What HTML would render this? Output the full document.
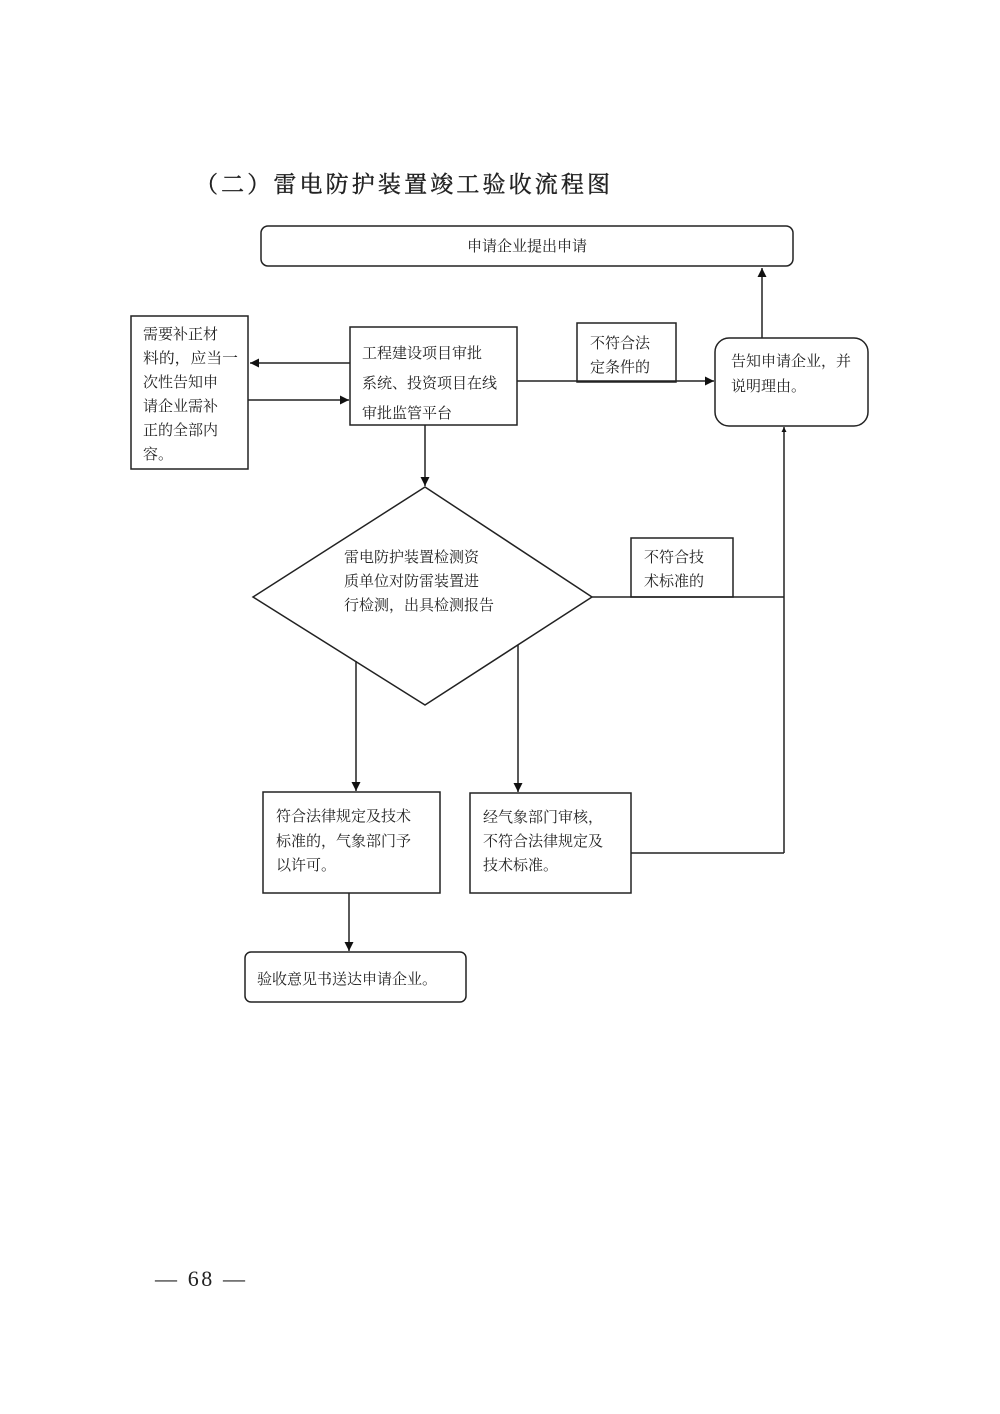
<!DOCTYPE html>
<html><head><meta charset="utf-8"><style>
html,body{margin:0;padding:0;background:#fff;}
svg{display:block;}
text{font-family:"Liberation Serif","Noto Serif CJK SC","Noto Sans CJK SC",serif;fill:#222;}
</style></head><body>
<svg width="1000" height="1414" viewBox="0 0 1000 1414" xmlns="http://www.w3.org/2000/svg">
<defs>
<marker id="a" viewBox="0 0 10 10" refX="10" refY="5" markerWidth="9" markerHeight="9" markerUnits="userSpaceOnUse" orient="auto"><path d="M0,0 L10,5 L0,10 z" fill="#111"/></marker>
<marker id="s" viewBox="0 0 10 10" refX="10" refY="5" markerWidth="5" markerHeight="5" markerUnits="userSpaceOnUse" orient="auto"><path d="M0,0 L10,5 L0,10 z" fill="#111"/></marker>
</defs>
<g fill="none" stroke="#222" stroke-width="1.5">
<rect x="261" y="226" width="532" height="40" rx="7"/>
<rect x="131" y="316" width="117" height="153"/>
<rect x="350" y="327" width="167" height="98"/>
<rect x="577" y="323" width="99" height="59"/>
<rect x="715" y="338" width="153" height="88" rx="14"/>
<polygon points="425,487 592,597 425,705 253,597"/>
<rect x="631" y="538" width="102" height="59"/>
<rect x="263" y="792" width="177" height="101"/>
<rect x="470" y="793" width="161" height="100"/>
<rect x="245" y="952" width="221" height="50" rx="6"/>
<line x1="350" y1="363" x2="250" y2="363" marker-end="url(#a)"/>
<line x1="248" y1="400" x2="349" y2="400" marker-end="url(#a)"/>
<line x1="517" y1="381" x2="714" y2="381" marker-end="url(#a)"/>
<line x1="762" y1="338" x2="762" y2="268" marker-end="url(#a)"/>
<line x1="784" y1="853" x2="784" y2="427" marker-end="url(#s)"/>
<line x1="425" y1="425" x2="425" y2="486" marker-end="url(#a)"/>
<line x1="592" y1="597" x2="784" y2="597"/>
<line x1="356" y1="661" x2="356" y2="791" marker-end="url(#a)"/>
<line x1="518" y1="645" x2="518" y2="792" marker-end="url(#a)"/>
<line x1="631" y1="853" x2="784" y2="853"/>
<line x1="349" y1="893" x2="349" y2="951" marker-end="url(#a)"/>
</g>
<text x="195" y="192" font-size="23" stroke="#222" stroke-width="0.4" textLength="415" lengthAdjust="spacing">（二）雷电防护装置竣工验收流程图</text>
<g font-size="15">
<text x="527" y="251" text-anchor="middle">申请企业提出申请</text>
<text x="143" y="339">需要补正材</text>
<text x="143" y="363" textLength="95" lengthAdjust="spacingAndGlyphs">料的，应当一</text>
<text x="143" y="387">次性告知申</text>
<text x="143" y="411">请企业需补</text>
<text x="143" y="435">正的全部内</text>
<text x="143" y="459">容。</text>
<text x="362" y="358">工程建设项目审批</text>
<text x="362" y="388">系统、投资项目在线</text>
<text x="362" y="418">审批监管平台</text>
<text x="590" y="348">不符合法</text>
<text x="590" y="372">定条件的</text>
<text x="731" y="366">告知申请企业，并</text>
<text x="731" y="391">说明理由。</text>
<text x="344" y="562">雷电防护装置检测资</text>
<text x="344" y="586">质单位对防雷装置进</text>
<text x="344" y="610">行检测，出具检测报告</text>
<text x="644" y="562">不符合技</text>
<text x="644" y="586">术标准的</text>
<text x="276" y="821">符合法律规定及技术</text>
<text x="276" y="846">标准的，气象部门予</text>
<text x="276" y="870">以许可。</text>
<text x="483" y="822">经气象部门审核，</text>
<text x="483" y="846">不符合法律规定及</text>
<text x="483" y="870">技术标准。</text>
<text x="257" y="984">验收意见书送达申请企业。</text>
</g>
<text x="155" y="1286" font-size="22" textLength="90" lengthAdjust="spacing">— 68 —</text>
</svg>
</body></html>
